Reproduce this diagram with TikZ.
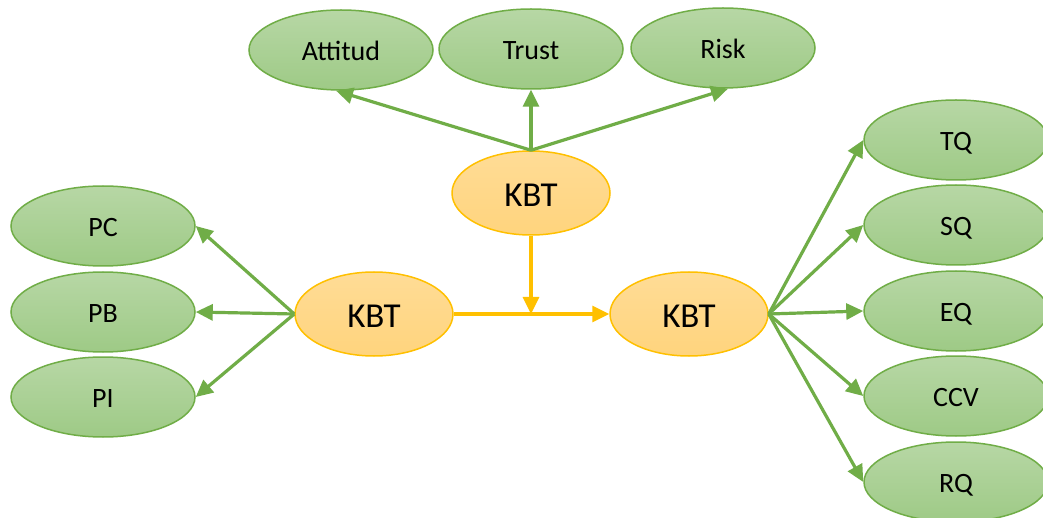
\documentclass[tikz,border=0pt]{standalone}
\usepackage{fontspec}
\setmainfont{Carlito}
\usetikzlibrary{shapes.geometric,arrows.meta}
\definecolor{gline}{RGB}{112,173,71}
\definecolor{gtop}{RGB}{183,215,165}
\definecolor{gbot}{RGB}{158,202,134}
\definecolor{oline}{RGB}{255,192,0}
\definecolor{otop}{RGB}{255,220,150}
\definecolor{obot}{RGB}{255,212,125}
\tikzset{
  gnode/.style={ellipse, draw=gline, line width=1.5pt, top color=gtop, bottom color=gbot,
    minimum width=184pt, minimum height=80pt, inner sep=0pt, text height=21pt, text depth=0pt,
    font=\fontsize{28}{32}\selectfont},
  onode/.style={ellipse, draw=oline, line width=1.5pt, top color=otop, bottom color=obot,
    minimum width=158pt, minimum height=84pt, inner sep=0pt, text height=27pt, text depth=0pt,
    font=\fontsize{35}{40}\selectfont},
  garr/.style={draw=gline, line width=3.2pt, -{Triangle[length=17pt,width=16pt]}},
  oarr/.style={draw=oline, line width=3.2pt, -{Triangle[length=17pt,width=16pt]}},
}
\begin{document}
\begin{tikzpicture}[x=1pt,y=-1pt]
\clip (0,0) rectangle (1043,518);
\fill[white] (0,0) rectangle (1043,518);
% top
\node[gnode] (att) at (341,50) {Attitud};
\node[gnode] (tru) at (531,49) {Trust};
\node[gnode] (ris) at (723,48) {Risk};
% KBT
\node[onode] (kt) at (531,193) {KBT};
\node[onode] (kl) at (374,314) {KBT};
\node[onode] (kr) at (689,314) {KBT};
% left
\node[gnode] (pc) at (103,226) {PC};
\node[gnode] (pb) at (103,312) {PB};
\node[gnode] (pi) at (103,397) {PI};
% right
\node[gnode] (tq) at (956,140) {TQ};
\node[gnode] (sq) at (956,225) {SQ};
\node[gnode] (eq) at (956,311) {EQ};
\node[gnode] (ccv) at (956,396) {CCV};
\node[gnode] (rq) at (956,482) {RQ};
% connectors
\draw[garr] (kt.north) -- (att.-97);
\draw[garr] (kt.north) -- (tru.south);
\draw[garr] (kt.north) -- (ris.-83);
\draw[garr] (kl.west) -- (pc.east);
\draw[garr] (kl.west) -- (pb.east);
\draw[garr] (kl.west) -- (pi.east);
\draw[garr] (kr.east) -- (tq.west);
\draw[garr] (kr.east) -- (sq.west);
\draw[garr] (kr.east) -- (eq.west);
\draw[garr] (kr.east) -- (ccv.west);
\draw[garr] (kr.east) -- (rq.west);
\coordinate (m) at (kt.south |- kl.east);
\draw[oarr] (kt.south) -- (m);
\draw[oarr] (kl.east) -- (kr.west);
\end{tikzpicture}
\end{document}
